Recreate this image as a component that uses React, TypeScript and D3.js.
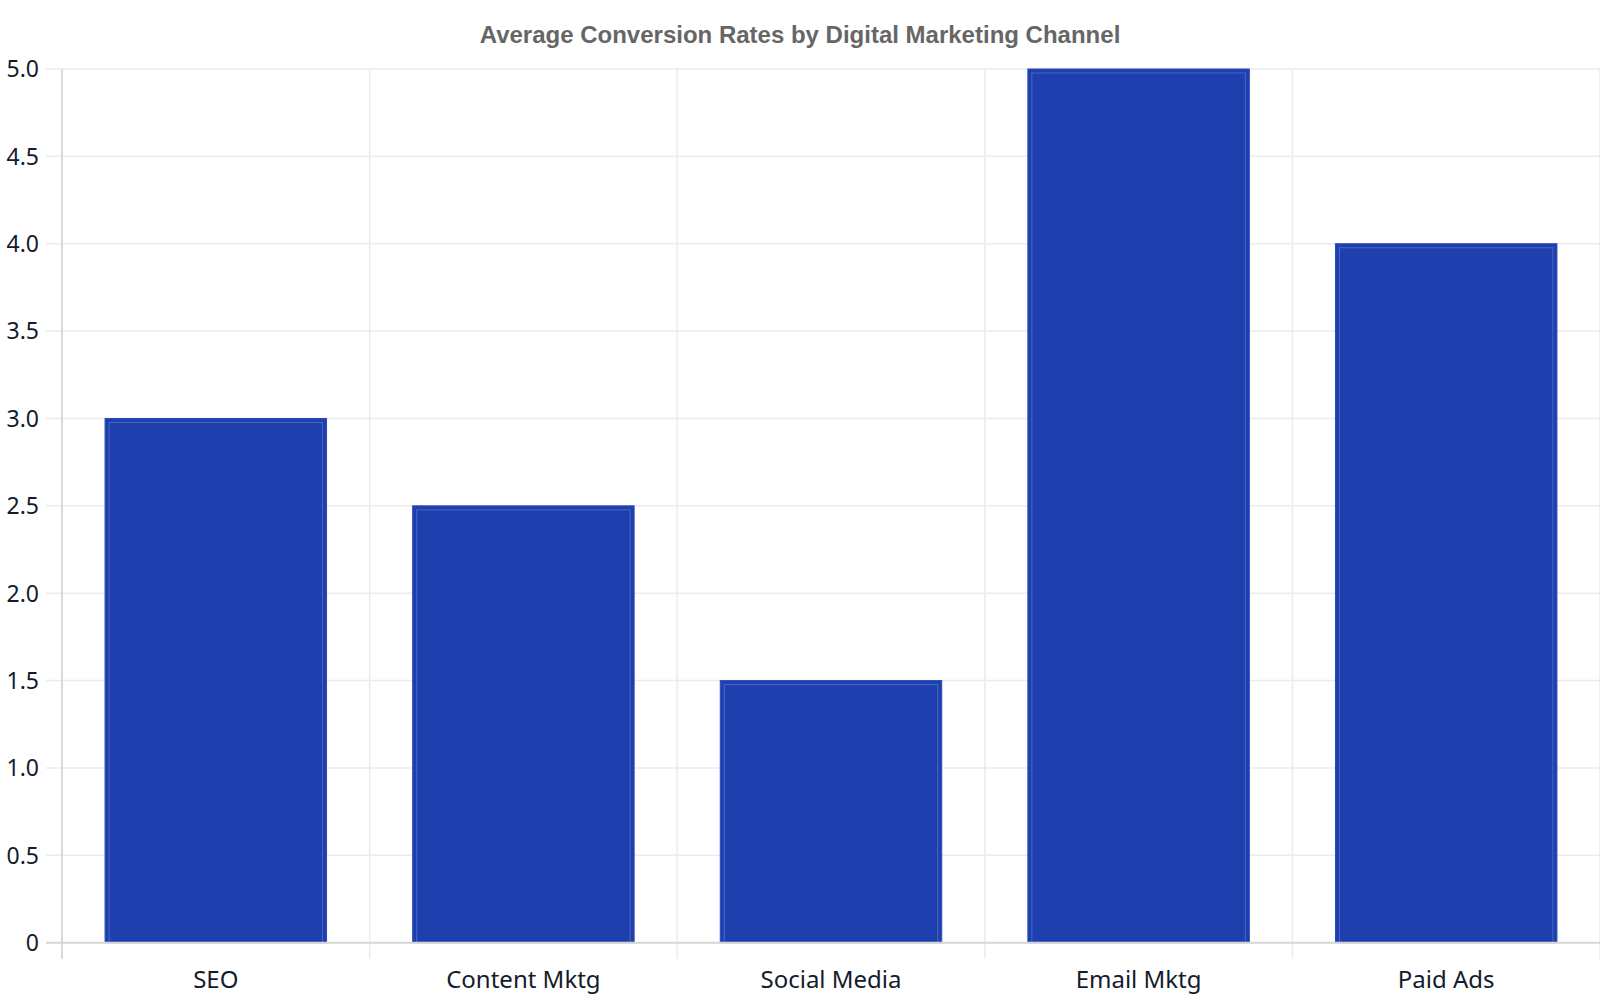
import React from 'react';
import * as d3 from 'd3';

const CHANNELS = ['SEO', 'Content Mktg', 'Social Media', 'Email Mktg', 'Paid Ads'];
const CONVERSION_RATES = [3.0, 2.5, 1.5, 5.0, 4.0];
const Y_TICKS = [0, 0.5, 1, 1.5, 2, 2.5, 3, 3.5, 4, 4.5, 5];

const WIDTH = 1600;
const HEIGHT = 1000;
const margin = { top: 69, right: 0, bottom: 57.3, left: 62 };

const BAR_FILL = '#1e40af';
const TEXT = '#141b2d';

const App: React.FC = () => {
  const x = d3.scaleBand<string>()
    .domain(CHANNELS)
    .range([margin.left, WIDTH - margin.right])
    .paddingInner(0.28)
    .paddingOuter(0.14);

  const y = d3.scaleLinear()
    .domain([0, 5])
    .range([HEIGHT - margin.bottom, margin.top]);

  const step = x.step();
  const x0 = margin.left;
  const y0 = y(0);
  const fmt = (v: number) => (v === 0 ? '0' : d3.format('.1f')(v));

  // category boundaries for the vertical grid
  const boundaries = d3.range(CHANNELS.length + 1).map(i => x0 + i * step);

  return (
    <div style={{ position: 'absolute', top: 0, left: 0 }}>
      <svg width={WIDTH} height={HEIGHT} style={{ display: 'block', background: '#fff' }}>
        <text
          x={WIDTH / 2}
          y={43}
          textAnchor="middle"
          style={{ fontFamily: '"Liberation Sans", Arial, sans-serif', fontWeight: 700, fontSize: 24, fill: '#666666' }}
        >
          Average Conversion Rates by Digital Marketing Channel
        </text>

        {/* vertical grid */}
        {boundaries.slice(1).map((bx, i) => (
          <line key={`vg${i}`} x1={bx} x2={bx} y1={margin.top} y2={y0 + 16} stroke="#ebebeb" strokeWidth={1.5} />
        ))}

        {/* horizontal grid */}
        {Y_TICKS.filter(t => t !== 0).map(t => (
          <line key={`hg${t}`} x1={x0 - 16} x2={WIDTH} y1={y(t)} y2={y(t)} stroke="#ebebeb" strokeWidth={1.5} />
        ))}

        {/* bars */}
        {CHANNELS.map((c, i) => {
          const bx = x(c) as number;
          const bw = x.bandwidth();
          const by = y(CONVERSION_RATES[i]);
          const bh = y0 - by;
          return (
            <g key={c}>
              <rect x={bx} y={by} width={bw} height={bh} fill={BAR_FILL} stroke="#2a49bd" strokeWidth={1} />
              <rect
                x={bx + 4}
                y={by + 4}
                width={bw - 8}
                height={bh - 4}
                fill="none"
                stroke="rgba(255,255,255,0.2)"
                strokeWidth={1}
              />
            </g>
          );
        })}

        {/* axes lines */}
        <line x1={x0} x2={x0} y1={margin.top} y2={y0 + 16} stroke="#d9d9d9" strokeWidth={2} />
        <line x1={x0 - 16} x2={WIDTH} y1={y0} y2={y0} stroke="#d6d6d6" strokeWidth={2} />

        {/* y tick labels */}
        {Y_TICKS.map(t => (
          <text
            key={`yt${t}`}
            x={39}
            y={y(t)}
            dy="0.36em"
            textAnchor="end"
            style={{ fontFamily: '"Noto Sans", sans-serif', fontSize: 23, fill: TEXT }}
          >
            {fmt(t)}
          </text>
        ))}

        {/* x tick labels */}
        {CHANNELS.map(c => (
          <text
            key={`xt${c}`}
            x={(x(c) as number) + x.bandwidth() / 2}
            y={988}
            textAnchor="middle"
            style={{ fontFamily: '"Noto Sans", sans-serif', fontSize: 24, fill: TEXT }}
          >
            {c}
          </text>
        ))}
      </svg>
    </div>
  );
};

export default App;
